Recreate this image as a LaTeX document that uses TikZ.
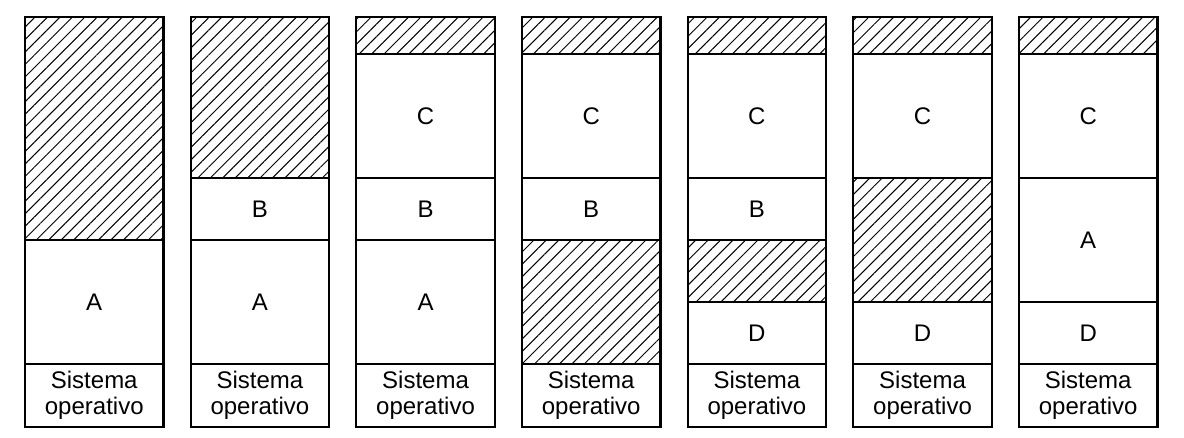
\documentclass[tikz,border=0pt]{standalone}
\usepackage{fontspec}
\setmainfont{Liberation Sans}
\usetikzlibrary{positioning, patterns.meta}

\begin{document}
\begin{tikzpicture}[
    mem/.style={rectangle, draw, line width=1.1pt, outer sep=0pt, inner sep=0pt, minimum width=69.25pt, font=\fontsize{12pt}{13pt}\selectfont},
    os/.style={mem, minimum height=31.5pt, align=center},
    free/.style={mem, pattern={Lines[angle=45, distance=4.4pt, line width=0.5pt]}},
    tallbox/.style={minimum height=62pt},
    lowbox/.style={minimum height=31pt},
    topbox/.style={minimum height=18.5pt}
    ]
\useasboundingbox (0,0) rectangle (592pt,219pt);
% column 1
\node[os, anchor=south west] (os1) at (12.5pt,5.5pt) {Sistema\\operativo};
\node[mem, tallbox, above=0pt of os1] (a1) {A};
\node[free, minimum height=111.5pt, above=0pt of a1] (h1) {};
% column 2
\node[os, right=13.58pt of os1] (os2) {Sistema\\operativo};
\node[mem, tallbox, above=0pt of os2] (a2) {A};
\node[mem, lowbox, above=0pt of a2] (b2) {B};
\node[free, minimum height=80.5pt, above=0pt of b2] (h2) {};
% column 3
\node[os, right=13.58pt of os2] (os3) {Sistema\\operativo};
\node[mem, tallbox, above=0pt of os3] (a3) {A};
\node[mem, lowbox, above=0pt of a3] (b3) {B};
\node[mem, tallbox, above=0pt of b3] (c3) {C};
\node[free, topbox, above=0pt of c3] (h3) {};
% column 4
\node[os, right=13.58pt of os3] (os4) {Sistema\\operativo};
\node[free, tallbox, above=0pt of os4] (g4) {};
\node[mem, lowbox, above=0pt of g4] (b4) {B};
\node[mem, tallbox, above=0pt of b4] (c4) {C};
\node[free, topbox, above=0pt of c4] (h4) {};
% column 5
\node[os, right=13.58pt of os4] (os5) {Sistema\\operativo};
\node[mem, lowbox, above=0pt of os5] (d5) {D};
\node[free, lowbox, above=0pt of d5] (g5) {};
\node[mem, lowbox, above=0pt of g5] (b5) {B};
\node[mem, tallbox, above=0pt of b5] (c5) {C};
\node[free, topbox, above=0pt of c5] (h5) {};
% column 6
\node[os, right=13.58pt of os5] (os6) {Sistema\\operativo};
\node[mem, lowbox, above=0pt of os6] (d6) {D};
\node[free, tallbox, above=0pt of d6] (g6) {};
\node[mem, tallbox, above=0pt of g6] (c6) {C};
\node[free, topbox, above=0pt of c6] (h6) {};
% column 7
\node[os, right=13.58pt of os6] (os7) {Sistema\\operativo};
\node[mem, lowbox, above=0pt of os7] (d7) {D};
\node[mem, tallbox, above=0pt of d7] (a7) {A};
\node[mem, tallbox, above=0pt of a7] (c7) {C};
\node[free, topbox, above=0pt of c7] (h7) {};
\end{tikzpicture}
\end{document}
